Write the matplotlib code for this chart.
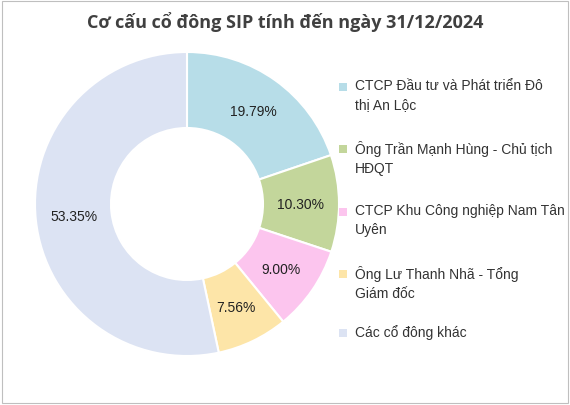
import matplotlib.pyplot as plt
from matplotlib.patches import Rectangle
import numpy as np

labels = ["CTCP Đầu tư và Phát triển Đô\nthị An Lộc",
          "Ông Trần Mạnh Hùng - Chủ tịch\nHĐQT",
          "CTCP Khu Công nghiệp Nam Tân\nUyên",
          "Ông Lư Thanh Nhã - Tổng\nGiám đốc",
          "Các cổ đông khác"]
values = [19.79, 10.30, 9.00, 7.56, 53.35]
colors = ["#b7dde8", "#c3d69b", "#fcc5ee", "#fde5a8", "#dce3f3"]

plt.rcParams['font.family'] = ['Liberation Sans', 'DejaVu Sans']
W, H = 570, 406
fig = plt.figure(figsize=(W / 100, H / 100), dpi=100)
fig.patches.append(Rectangle((0.004, 0.004), 0.992, 0.99, transform=fig.transFigure,
                             fill=False, edgecolor="#bfbfbf", lw=0.8))

fig.text(0.5, 1 - 22 / H, "Cơ cấu cổ đông SIP tính đến ngày 31/12/2024", ha="center", va="center",
         fontsize=13, fontweight="bold", color="#404040", family=['Open Sans', 'DejaVu Sans'])

cx, cy, r = 187, 205, 152
ax = fig.add_axes([(cx - r) / W, (H - cy - r) / H, 2 * r / W, 2 * r / H])
ax.pie(values, colors=colors, startangle=90, counterclock=False,
       wedgeprops=dict(width=0.5, edgecolor="white", linewidth=1.5))
start = 90
for v in values:
    mid = np.deg2rad(start - v * 3.6 / 2)
    ax.text(0.75 * np.cos(mid), 0.75 * np.sin(mid), f"{v:.2f}%", ha="center", va="center",
            fontsize=10, color="#222222")
    start -= v * 3.6
ax.set_xlim(-1, 1)
ax.set_ylim(-1, 1)
ax.set_aspect("equal")

ys = [88, 150, 213, 275, 334]
for lab, col, y in zip(labels, colors, ys):
    fig.patches.append(Rectangle((339 / W, 1 - (y + 4) / H), 8 / W, 8 / H,
                                 transform=fig.transFigure, facecolor=col, edgecolor="none"))
    fig.text(355 / W, 1 - (y - 9) / H, lab, ha="left", va="top", fontsize=10,
             color="#333333", linespacing=1.45)

fig.savefig("out.png", dpi=100)
